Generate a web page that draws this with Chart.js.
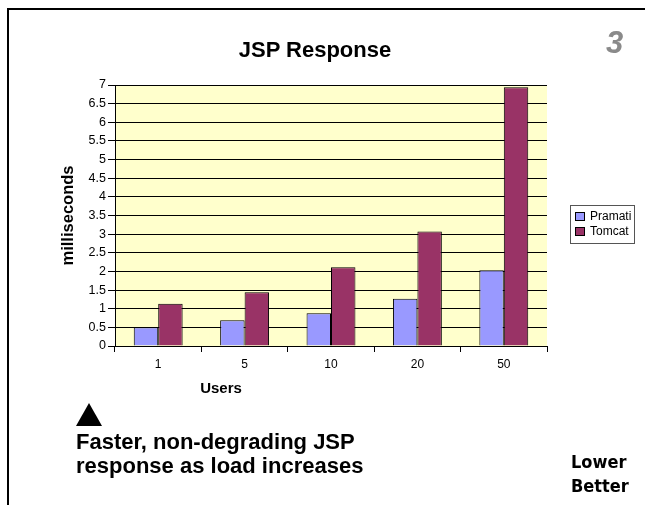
<!DOCTYPE html>
<html>
<head>
<meta charset="utf-8">
<script src="https://cdn.jsdelivr.net/npm/chart.js@4"></script>
<style>
  html, body { margin: 0; padding: 0; background: #fff; }
  #wrap { position: relative; width: 645px; height: 505px; overflow: hidden; }
  #frame { position: absolute; left: 7px; top: 8px; width: 645px; height: 505px;
           border-top: 2px solid #000; border-left: 2px solid #000; }
  canvas { position: absolute; left: 0; top: 0; }
  .note { position: absolute; font-family: "Liberation Sans", Arial, sans-serif; font-weight: bold; color: #000; white-space: nowrap; }
  #title { left: 165px; top: 39px; width: 300px; text-align: center; font-size: 22px; line-height: 22px; }
  #slide { left: 606px; top: 28px; font-size: 31px; line-height: 30px; font-style: italic; color: #8a8a8a; }
  #users { left: 171px; top: 380px; width: 100px; text-align: center; font-size: 15px; line-height: 15px; }
  #arrow { position: absolute; left: 76px; top: 403px; width: 0; height: 0;
           border-left: 13.5px solid transparent; border-right: 13.5px solid transparent; border-bottom: 23px solid #000; }
  #faster { left: 76px; top: 430px; font-size: 22px; line-height: 24px; }
  #lower { left: 571px; top: 450px; font-family: "DejaVu Sans", Verdana, sans-serif; font-stretch: condensed;
           font-size: 18px; line-height: 24px; }
</style>
</head>
<body>
<div id="wrap">
  <div id="frame"></div>
  <canvas id="jspChart" width="645" height="505"></canvas>
  <div class="note" id="title">JSP Response</div>
  <div class="note" id="slide">3</div>
  <div class="note" id="users">Users</div>
  <div id="arrow"></div>
  <div class="note" id="faster">Faster, non-degrading JSP<br>response as load increases</div>
  <div class="note" id="lower">Lower<br>Better</div>
</div>
<script>
const userLabels = ["1", "5", "10", "20", "50"];
const pramatiMs = [0.50, 0.69, 0.88, 1.27, 2.03];
const tomcatMs = [1.13, 1.44, 2.11, 3.07, 6.94];

const FONT = "'Liberation Sans', Arial, sans-serif";

// yellow plot background
const plotBackground = {
    id: "plotBackground",
    beforeDraw(chart) {
        const { ctx, chartArea } = chart;
        ctx.save();
        ctx.fillStyle = "#FFFFCC";
        ctx.fillRect(chartArea.left, chartArea.top, chartArea.right - chartArea.left, chartArea.bottom - chartArea.top);
        ctx.restore();
    }
};

// boxed legend on the right, like the old office chart
const boxLegend = {
    id: "boxLegend",
    afterDraw(chart) {
        const ctx = chart.ctx;
        const x = 570, y = 205, w = 64, h = 38;
        ctx.save();
        ctx.fillStyle = "#fff";
        ctx.fillRect(x, y, w, h);
        ctx.strokeStyle = "#555";
        ctx.lineWidth = 1;
        ctx.strokeRect(x + 0.5, y + 0.5, w, h);
        ctx.font = "12px " + FONT;
        ctx.textBaseline = "middle";
        chart.data.datasets.forEach((ds, i) => {
            const rowY = y + 11 + i * 15;
            ctx.fillStyle = ds.backgroundColor;
            ctx.fillRect(x + 5, rowY - 4, 10, 9);
            ctx.strokeStyle = "#000";
            ctx.strokeRect(x + 5.5, rowY - 3.5, 9, 8);
            ctx.fillStyle = "#000";
            ctx.fillText(ds.label, x + 20, rowY + 1);
        });
        ctx.restore();
    }
};

new Chart(document.getElementById("jspChart"), {
    type: "bar",
    data: {
        labels: userLabels,
        datasets: [
            {
                label: "Pramati",
                data: pramatiMs,
                backgroundColor: "#9999FF",
                borderColor: "#000",
                borderWidth: 1,
                categoryPercentage: 0.566,
                barPercentage: 1.0
            },
            {
                label: "Tomcat",
                data: tomcatMs,
                backgroundColor: "#993366",
                borderColor: "#000",
                borderWidth: 1,
                categoryPercentage: 0.566,
                barPercentage: 1.0
            }
        ]
    },
    options: {
        responsive: false,
        animation: false,
        layout: { padding: { left: 0, right: 98, bottom: 109, top: 85 } },
        plugins: {
            legend: { display: false },
            tooltip: { enabled: false },
            title: { display: false }
        },
        scales: {
            x: {
                grid: { display: true, drawOnChartArea: false, offset: true, tickLength: 6, color: "#000" },
                border: { color: "#000", width: 1 },
                ticks: { color: "#000", font: { family: FONT, size: 12 }, padding: 5 },
                afterFit(scale) { scale.height = 50; }
            },
            y: {
                min: 0,
                max: 7,
                ticks: {
                    stepSize: 0.5,
                    color: "#000",
                    font: { family: FONT, size: 12.5 },
                    padding: 2,
                    callback: (value) => String(value)
                },
                grid: { color: "#000", lineWidth: 1, tickLength: 7 },
                border: { color: "#000", width: 1 },
                title: {
                    display: true,
                    text: "milliseconds",
                    color: "#000",
                    font: { family: FONT, size: 16.5, weight: "bold" },
                    padding: { top: 59, bottom: 0 }
                },
                afterFit(scale) { scale.width = 115; }
            }
        }
    },
    plugins: [plotBackground, boxLegend]
});
</script>
</body>
</html>
